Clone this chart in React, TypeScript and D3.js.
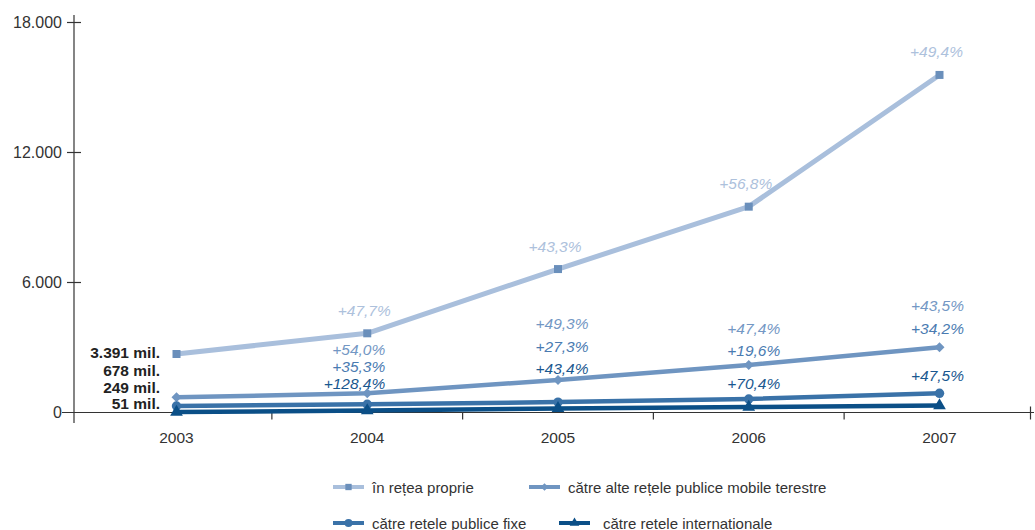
import React from "react";
import * as d3 from "d3";

const years = ["2003", "2004", "2005", "2006", "2007"];
const ownNetwork = [2700, 3655, 6620, 9500, 15580];
const otherMobile = [700, 886, 1500, 2192, 3009];
const fixedNetworks = [300, 378, 480, 623, 886];
const internationalNetworks = [20, 90, 190, 254, 323];

const yTicks = [0, 6000, 12000, 18000];
const yTickLabels = ["0", "6.000", "12.000", "18.000"];

const startLabels = ["3.391 mil.", "678 mil.", "249 mil.", "51 mil."];
const growthOwn = ["", "+47,7%", "+43,3%", "+56,8%", "+49,4%"];
const growthRow1 = ["", "+54,0%", "+49,3%", "+47,4%", "+43,5%"];
const growthRow2 = ["", "+35,3%", "+27,3%", "+19,6%", "+34,2%"];
const growthRow3 = ["", "+128,4%", "+43,4%", "+70,4%", "+47,5%"];

const seriesNames = [
  "în rețea proprie",
  "către alte rețele publice mobile terestre",
  "către rețele publice fixe",
  "către rețele internaționale",
];

const W = 1035;
const H = 530;
const AX = "#333333";
const FONT = "'Liberation Sans', Arial, sans-serif";

// layout offsets for the stacked growth labels (relative to diamond point)
const labelDy = [
  [0, 0, 0],
  [-44, -27, -10],
  [-57, -34, -12],
  [-37, -15, 18],
  [-42, -19, 28],
];
const labelDx = [0, 18, 4, 5, -2];
const labelRowColors = ["#7397c4", "#4a7bb1", "#1a588f"];

const seriesStyles = [
  { line: "#a9bfdc", marker: "#6a8fbb", width: 5, shape: "square" },
  { line: "#6f95c1", marker: "#6f95c1", width: 4.5, shape: "diamond" },
  { line: "#3a72a8", marker: "#3a72a8", width: 4.5, shape: "circle" },
  { line: "#0b4f87", marker: "#0b4f87", width: 4.5, shape: "triangle" },
];

const rhombus = {
  draw(ctx: any, size: number) {
    const r = Math.sqrt(size / 2);
    ctx.moveTo(0, -r);
    ctx.lineTo(r, 0);
    ctx.lineTo(0, r);
    ctx.lineTo(-r, 0);
    ctx.closePath();
  },
};

function Marker({ shape, x, y, color, size }: any) {
  const sym =
    shape === "square"
      ? d3.symbolSquare
      : shape === "diamond"
      ? rhombus
      : shape === "circle"
      ? d3.symbolCircle
      : d3.symbolTriangle;
  const p = d3.symbol().type(sym as any).size(size)();
  return <path d={p || ""} transform={`translate(${x},${y})`} fill={color} />;
}

export default function App() {
  const x = d3.scalePoint<string>().domain(years).range([176.5, 939.5]);
  const y = d3.scaleLinear().domain([0, 18000]).range([412.5, 22.5]);
  const step = x.step();
  const allSeries = [ownNetwork, otherMobile, fixedNetworks, internationalNetworks];
  const markerSizes = [64, 50, 70, 70];

  const line = d3
    .line<number>()
    .x((_, i) => x(years[i]) as number)
    .y((d) => y(d));

  const xTickPos = years.map((yr, i) =>
    i < years.length - 1 ? (x(yr) as number) + step / 2 : 1030.5
  );

  return (
    <svg
      width={W}
      height={H}
      style={{ position: "absolute", left: 0, top: 0, background: "#fff" }}
      fontFamily={FONT}
    >
      <rect width={W} height={H} fill="#fff" />
      {/* axes */}
      <line x1={74} x2={74} y1={15} y2={423} stroke={AX} strokeWidth={1.2} />
      <line x1={62} x2={1034} y1={y(0)} y2={y(0)} stroke={AX} strokeWidth={1.2} />
      {yTicks.map((t, i) => (
        <g key={t}>
          {t !== 0 && (
            <line x1={67} x2={81} y1={y(t)} y2={y(t)} stroke={AX} strokeWidth={1.2} />
          )}
          <text
            x={62}
            y={y(t)}
            textAnchor="end"
            dominantBaseline="central"
            fontSize={16}
            fill={AX}
          >
            {yTickLabels[i]}
          </text>
        </g>
      ))}
      {xTickPos.map((p, i) => (
        <line
          key={i}
          x1={p}
          x2={p}
          y1={i === xTickPos.length - 1 ? y(0) - 6 : y(0)}
          y2={y(0) + 7}
          stroke={AX}
          strokeWidth={1.2}
        />
      ))}
      {years.map((yr) => (
        <text
          key={yr}
          x={x(yr)}
          y={437}
          textAnchor="middle"
          dominantBaseline="central"
          fontSize={15.5}
          fill={AX}
        >
          {yr}
        </text>
      ))}

      {/* series */}
      {allSeries.map((s, si) => (
        <g key={si}>
          <path
            d={line(s) || ""}
            fill="none"
            stroke={seriesStyles[si].line}
            strokeWidth={seriesStyles[si].width}
            strokeLinejoin="round"
          />
          {s.map((v, i) => (
            <Marker
              key={i}
              shape={seriesStyles[si].shape}
              x={x(years[i])}
              y={y(v)}
              color={seriesStyles[si].marker}
              size={markerSizes[si]}
            />
          ))}
        </g>
      ))}

      {/* start labels */}
      {startLabels.map((l, i) => (
        <text
          key={l}
          x={160}
          y={352 + [0, 18.3, 35, 51.5][i]}
          textAnchor="end"
          dominantBaseline="central"
          fontSize={15.5}
          fontWeight="bold"
          fill="#222"
        >
          {l}
        </text>
      ))}

      {/* growth labels */}
      {years.map((yr, i) =>
        i === 0 ? null : (
          <g key={yr}>
            <text
              x={(x(yr) as number) - 3}
              y={y(ownNetwork[i]) - 23}
              textAnchor="middle"
              dominantBaseline="central"
              fontSize={15.5}
              fontStyle="italic"
              fill="#adc1dc"
            >
              {growthOwn[i]}
            </text>
            {[growthRow1, growthRow2, growthRow3].map((row, r) => (
              <text
                key={r}
                x={(x(yr) as number) + labelDx[i]}
                y={y(otherMobile[i]) + labelDy[i][r]}
                textAnchor={i === 1 ? "end" : "middle"}
                dominantBaseline="central"
                fontSize={15.5}
                fontStyle="italic"
                fill={labelRowColors[r]}
              >
                {row[i]}
              </text>
            ))}
          </g>
        )
      )}

      {/* legend */}
      {seriesNames.map((name, i) => {
        const col = i % 2;
        const row = Math.floor(i / 2);
        const lx = col === 0 ? 333 : i === 1 ? 529 : 559;
        const ly = row === 0 ? 487 : 523;
        const tx = col === 0 ? 372 : i === 1 ? 568 : 603;
        return (
          <g key={name}>
            <line
              x1={lx}
              x2={lx + 31}
              y1={ly}
              y2={ly}
              stroke={seriesStyles[i].line}
              strokeWidth={4}
            />
            <Marker
              shape={seriesStyles[i].shape}
              x={lx + 15.5}
              y={ly}
              color={seriesStyles[i].marker}
              size={[40, 30, 50, 40][i]}
            />
            <text
              x={tx}
              y={ly}
              dominantBaseline="central"
              fontSize={15}
              fill={AX}
            >
              {name}
            </text>
          </g>
        );
      })}
    </svg>
  );
}
